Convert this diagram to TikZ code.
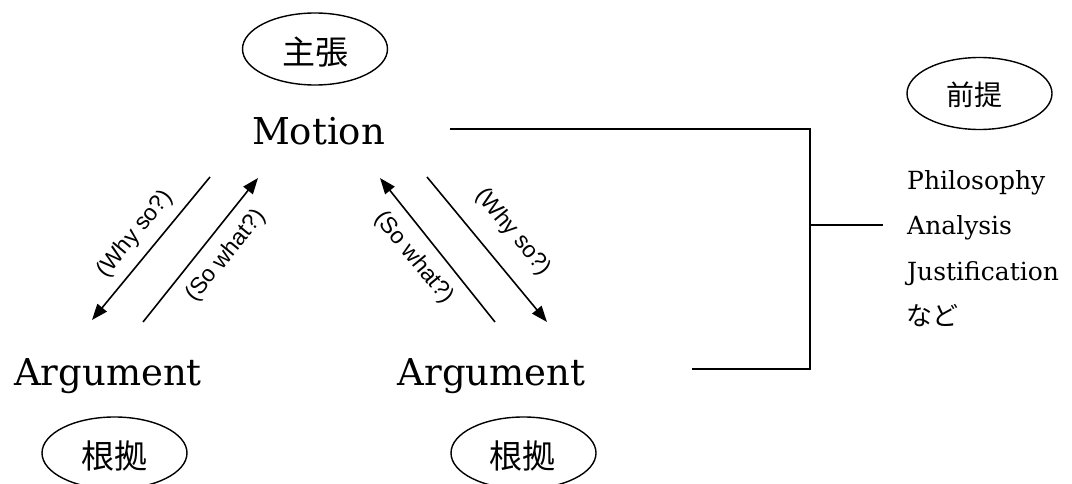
\documentclass[tikz,border=0pt]{standalone}
\usepackage{fontspec}
\setmainfont{DejaVu Serif}
\newfontfamily\cjk{Noto Sans CJK JP}
\newfontfamily\lsans{Liberation Sans}
\usetikzlibrary{arrows.meta,shapes.geometric}
\begin{document}
\begin{tikzpicture}[x=1pt,y=-1pt,
  big/.style={font=\fontsize{37}{40}\selectfont, inner sep=0pt, anchor=base},
  item/.style={font=\fontsize{25}{28}\selectfont, inner sep=0pt, anchor=base west},
  oval/.style={draw, ellipse, line width=1.4pt, minimum width=145pt, minimum height=72pt, inner sep=0pt},
  lbl/.style={font=\lsans\fontsize{23}{26}\selectfont, inner sep=0pt},
  conn/.style={line width=1.6pt},
  arr/.style={line width=1.6pt, -{Triangle[length=16pt,width=12pt]}}
]
\useasboundingbox (0,0) rectangle (1072,484);
% ovals
\node[oval] (claim) at (315,49) {};
\node[font=\cjk\fontsize{33}{36}\selectfont] (claimt) at (315,52) {主張};
\node[oval] (premise) at (979.5,93.5) {};
\node[font=\cjk\fontsize{28}{30}\selectfont] (premiset) at (974,95) {前提};
\node[oval] (ground1) at (114.5,453) {};
\node[font=\cjk\fontsize{33}{36}\selectfont] (ground1t) at (114,456) {根拠};
\node[oval] (ground2) at (523.5,453) {};
\node[font=\cjk\fontsize{33}{36}\selectfont] (ground2t) at (522,456) {根拠};
% main words
\node[big] (motion) at (318.5,145) {Motion};
\node[big] (arg1) at (108,385) {Argument};
\node[big] (arg2) at (491.5,385) {Argument};
% list
\node[item] (phil) at (907,190) {Philosophy};
\node[item] (anal) at (907,235) {Analysis};
\node[item] (just) at (907,280) {Justification};
\node[item, font=\cjk\fontsize{26}{28}\selectfont] (nado) at (906,325) {など};
% bracket
\coordinate (btop0) at (450,129);
\coordinate (btop1) at (810,129);
\coordinate (bbot1) at (810,369);
\coordinate (bbot0) at (692,369);
\coordinate (bmid0) at (810,225);
\coordinate (bmid1) at (883,225);
\draw[conn] (btop0) -- (btop1) -- (bbot1) -- (bbot0);
\draw[conn] (bmid0) -- (bmid1);
% left arrows
\coordinate (lw0) at (210,177);
\coordinate (lw1) at (92,320);
\coordinate (ls0) at (143,322);
\coordinate (ls1) at (258,178);
\draw[arr] (lw0) -- (lw1);
\draw[arr] (ls0) -- (ls1);
\node[lbl, rotate=50.5] (lwl) at (135,234) {(Why so?)};
\node[lbl, rotate=50.5] (lsl) at (226,256) {(So what?)};
% right arrows
\coordinate (rs0) at (495,322);
\coordinate (rs1) at (380,178);
\coordinate (rw0) at (427,177);
\coordinate (rw1) at (547,322);
\draw[arr] (rs0) -- (rs1);
\draw[arr] (rw0) -- (rw1);
\node[lbl, rotate=-50.5] (rsl) at (414,258) {(So what?)};
\node[lbl, rotate=-50.5] (rwl) at (513,232) {(Why so?)};
\end{tikzpicture}
\end{document}
